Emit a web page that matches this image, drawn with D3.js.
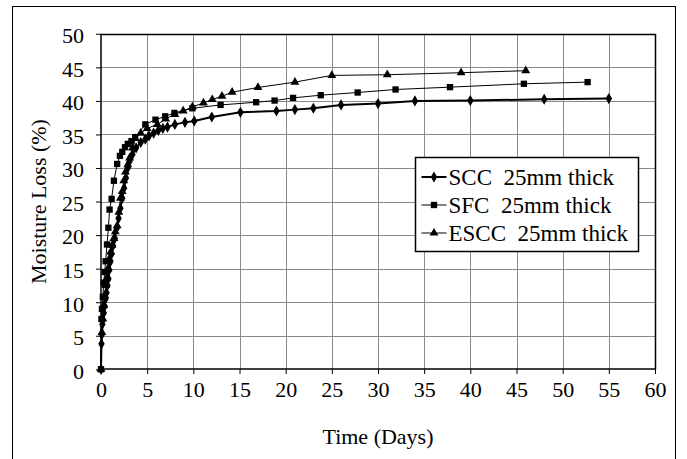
<!DOCTYPE html>
<html>
<head>
<meta charset="utf-8">
<script src="https://cdn.jsdelivr.net/npm/d3@7"></script>
<style>
  body { margin: 0; background: #fff; }
  text { font-family: "Liberation Serif", "Times New Roman", serif; fill: #000; }
</style>
</head>
<body>
<div class="container"></div>
<script>
// SCC 25mm thick (diamonds)
let sccDays = [0, 0.05, 0.1, 0.15, 0.2, 0.3, 0.4, 0.5, 0.6, 0.7, 0.8, 0.9, 1.0, 1.15, 1.3, 1.5, 1.7, 1.9, 2.1, 2.3, 2.5, 2.7, 2.9, 3.1, 3.4, 3.8, 4.3, 4.8, 5.2, 5.7, 6.2, 6.7, 7.2, 8.0, 9.1, 10.1, 12.0, 15.1, 19.0, 21.0, 23.0, 26.0, 30.0, 34.0, 40.0, 48.0, 55.0];
let sccLoss = [0, 3.8, 5.2, 6.7, 7.4, 8.4, 9.4, 10.5, 11.4, 12.5, 13.5, 14.8, 16.0, 17.2, 18.4, 19.5, 21.0, 22.5, 24.0, 25.5, 27.0, 28.5, 30.0, 31.0, 32.0, 33.0, 33.8, 34.3, 34.8, 35.2, 35.6, 35.9, 36.1, 36.5, 36.8, 37.0, 37.6, 38.3, 38.5, 38.7, 38.9, 39.4, 39.6, 40.0, 40.05, 40.25, 40.35];

// SFC 25mm thick (squares)
let sfcDays = [0, 0.05, 0.1, 0.2, 0.3, 0.4, 0.5, 0.65, 0.8, 0.93, 1.15, 1.4, 1.75, 2.05, 2.3, 2.6, 2.9, 3.3, 3.7, 4.8, 5.9, 6.95, 7.95, 9.9, 12.95, 16.8, 18.8, 20.8, 23.8, 27.8, 31.9, 37.8, 45.8, 52.7];
let sfcLoss = [0, 7.5, 9.0, 10.8, 12.9, 14.5, 16.1, 18.6, 21.1, 23.8, 25.4, 28.1, 30.6, 31.8, 32.4, 33.1, 33.6, 34.0, 34.6, 36.5, 37.2, 37.7, 38.2, 38.9, 39.4, 39.8, 40.05, 40.45, 40.85, 41.25, 41.7, 42.05, 42.55, 42.8];

// ESCC 25mm thick (triangles)
let esccDays = [0, 0.1, 0.2, 0.3, 0.4, 0.5, 0.6, 0.75, 0.9, 1.05, 1.2, 1.39, 1.55, 1.75, 1.93, 2.1, 2.3, 2.47, 2.65, 2.9, 3.1, 3.4, 3.7, 4.3, 5.0, 6.1, 7.0, 8.0, 8.9, 9.9, 11.1, 12.05, 13.1, 14.2, 17.0, 21.0, 25.0, 31.0, 39.0, 46.0];
let esccLoss = [0, 5.5, 7.5, 9.5, 11.0, 12.5, 13.5, 15.0, 16.5, 17.5, 18.5, 19.5, 20.5, 21.4, 23.4, 25.5, 26.5, 28.1, 29.4, 30.5, 31.5, 33.0, 34.4, 35.2, 35.9, 36.5, 37.3, 38.0, 38.5, 39.1, 39.7, 40.2, 40.7, 41.3, 42.0, 42.8, 43.8, 43.9, 44.2, 44.5];

let seriesNames = ["SCC  25mm thick", "SFC  25mm thick", "ESCC  25mm thick"];
let xTicks = d3.range(0, 61, 5);
let yTicks = d3.range(0, 51, 5);

let W = 687, H = 459;
let svg = d3.select(".container").append("svg")
    .attr("width", W)
    .attr("height", H);

// outer chart border
svg.append("rect")
    .attr("x", 12.5).attr("y", 6.5)
    .attr("width", 663).attr("height", 470)
    .attr("fill", "none").attr("stroke", "#000").attr("stroke-width", 1);

let x = d3.scaleLinear().domain([0, 60]).range([101, 655]);
let y = d3.scaleLinear().domain([0, 50]).range([369.3, 33.8]);

// gridlines
let grid = svg.append("g").attr("stroke", "#8a8a8a").attr("stroke-width", 1);
grid.selectAll(".vg").data(xTicks.slice(1, -1)).enter().append("line")
    .attr("x1", d => Math.round(x(d)) + 0.5).attr("x2", d => Math.round(x(d)) + 0.5)
    .attr("y1", y(0)).attr("y2", y(50));
grid.selectAll(".hg").data(yTicks.slice(1, -1)).enter().append("line")
    .attr("y1", d => Math.round(y(d)) + 0.5).attr("y2", d => Math.round(y(d)) + 0.5)
    .attr("x1", x(0)).attr("x2", x(60));

// top and right edges of plot
svg.append("path")
    .attr("d", "M" + x(0) + "," + (Math.round(y(50)) + 0.5) +
        "H" + (Math.round(x(60)) + 0.5) + "V" + y(0))
    .attr("fill", "none")
    .attr("stroke", "#000").attr("stroke-width", 1.5);

// axes
let xAxis = d3.axisBottom(x).tickValues(xTicks).tickSize(5).tickPadding(7);
let yAxis = d3.axisLeft(y).tickValues(yTicks).tickSize(5).tickPadding(12);

let gx = svg.append("g")
    .attr("transform", "translate(0," + Math.round(y(0)) + ")")
    .call(xAxis);
let gy = svg.append("g")
    .attr("transform", "translate(" + Math.round(x(0)) + ",0)")
    .call(yAxis);

[gx, gy].forEach(function (g) {
    g.select(".domain").attr("stroke", "#000").attr("stroke-width", 1.5);
    g.selectAll(".tick line").attr("stroke", "#000").attr("stroke-width", 1);
    g.selectAll("text")
        .style("font-family", "'Liberation Serif', 'Times New Roman', serif")
        .style("font-size", "22px")
        .attr("fill", "#000");
});
gx.select(".domain").attr("d", "M" + x(0) + ",0H" + x(60));
gy.select(".domain").attr("d", "M0," + y(0) + "V" + y(50));
gy.selectAll(".tick text").attr("dy", "0.4em");

// axis titles
svg.append("text")
    .attr("x", (x(0) + x(60)) / 2)
    .attr("y", 444)
    .attr("text-anchor", "middle")
    .style("font-size", "22px")
    .text("Time (Days)");

svg.append("text")
    .attr("transform", "translate(46," + ((y(0) + y(50)) / 2) + ") rotate(-90)")
    .attr("text-anchor", "middle")
    .style("font-size", "22px")
    .text("Moisture Loss (%)");

// series
let series = [
    {name: seriesNames[0], days: sccDays, loss: sccLoss, symbol: d3.symbolDiamond, size: 36, width: 2},
    {name: seriesNames[1], days: sfcDays, loss: sfcLoss, symbol: d3.symbolSquare, size: 40, width: 1},
    {name: seriesNames[2], days: esccDays, loss: esccLoss, symbol: d3.symbolTriangle, size: 34, width: 1}
];

let line = d3.line()
    .x(d => x(d[0]))
    .y(d => y(d[1]));

series.forEach(function (s) {
    let pts = s.days.map((d, i) => [d, s.loss[i]]);
    svg.append("path")
        .datum(pts)
        .attr("d", line)
        .attr("fill", "none")
        .attr("stroke", "#000")
        .attr("stroke-width", s.width);
    svg.append("g").selectAll("path")
        .data(pts)
        .enter()
        .append("path")
        .attr("transform", d => "translate(" + x(d[0]) + "," + y(d[1]) + ")")
        .attr("d", d3.symbol().type(s.symbol).size(s.size))
        .attr("fill", "#000");
});

// legend
let legend = svg.append("g").attr("transform", "translate(415.5,157.5)");
legend.append("rect")
    .attr("width", 223).attr("height", 94)
    .attr("fill", "#fff").attr("stroke", "#000").attr("stroke-width", 1.5);

series.forEach(function (s, i) {
    let ly = 19.5 + i * 28;
    legend.append("line")
        .attr("x1", 6).attr("x2", 31)
        .attr("y1", ly).attr("y2", ly)
        .attr("stroke", "#000").attr("stroke-width", s.width);
    legend.append("path")
        .attr("transform", "translate(18.5," + ly + ")")
        .attr("d", d3.symbol().type(s.symbol).size(s.size))
        .attr("fill", "#000");
    legend.append("text")
        .attr("x", 33)
        .attr("y", ly + 7.5)
        .style("font-size", "23px")
        .style("white-space", "pre")
        .attr("xml:space", "preserve")
        .text(s.name);
});
</script>
</body>
</html>
